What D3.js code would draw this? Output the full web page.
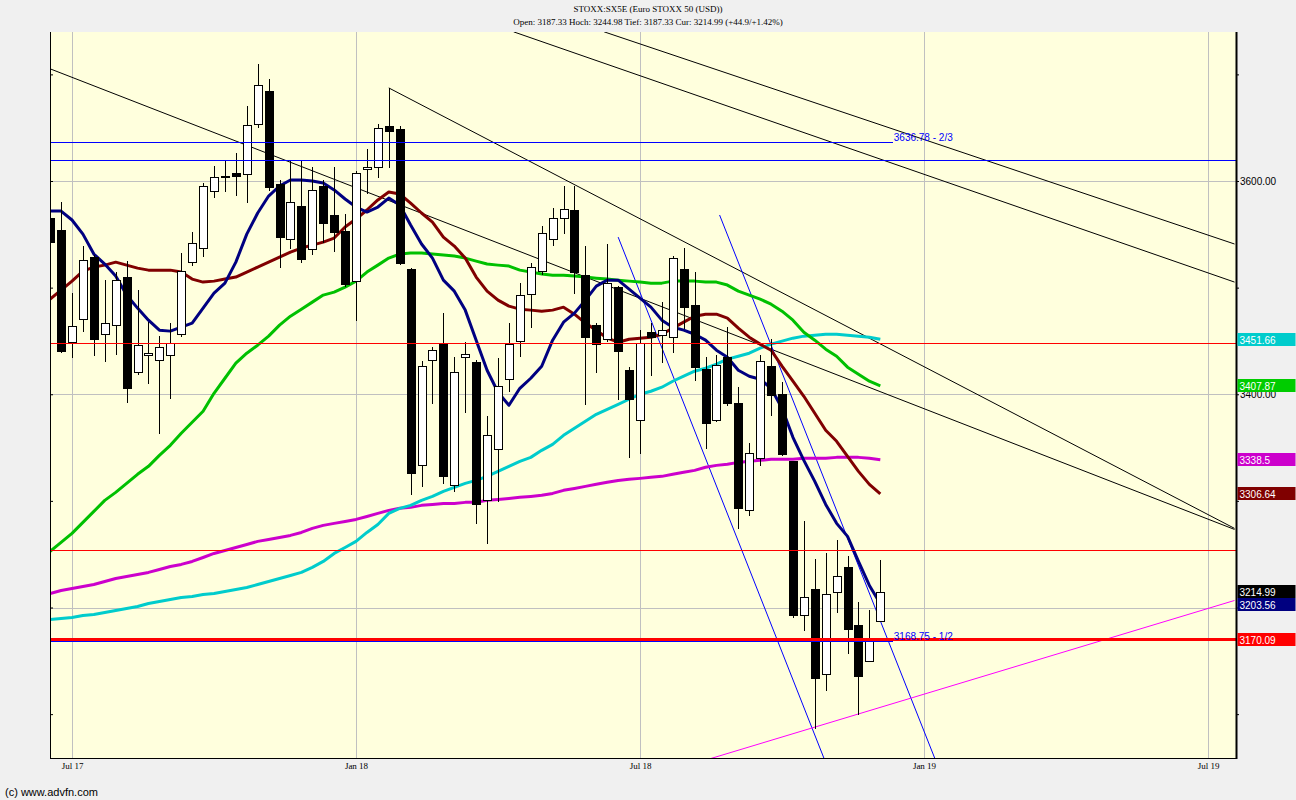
<!DOCTYPE html>
<html><head><meta charset="utf-8">
<script src="https://cdn.jsdelivr.net/npm/d3@7"></script>
<style>body{margin:0;background:#f0f0f0}svg{display:block}</style>
</head><body><svg id="c" width="1296" height="800"></svg>
<script>
// ---------- DATA ----------
const titleText = "STOXX:SX5E (Euro STOXX 50 (USD))";
const subTitleText = "Open: 3187.33 Hoch: 3244.98 Tief: 3187.33 Cur: 3214.99 (+44.9/+1.42%)";
const copyrightText = "(c) www.advfn.com";

const weeks = ["2017-06-19","2017-06-26","2017-07-03","2017-07-10","2017-07-17","2017-07-24","2017-07-31",
"2017-08-07","2017-08-14","2017-08-21","2017-08-28","2017-09-04","2017-09-11","2017-09-18","2017-09-25",
"2017-10-02","2017-10-09","2017-10-16","2017-10-23","2017-10-30","2017-11-06","2017-11-13","2017-11-20","2017-11-27",
"2017-12-04","2017-12-11","2017-12-18","2017-12-25","2018-01-01","2018-01-08","2018-01-15","2018-01-22","2018-01-29",
"2018-02-05","2018-02-12","2018-02-19","2018-02-26","2018-03-05","2018-03-12","2018-03-19","2018-03-26",
"2018-04-02","2018-04-09","2018-04-16","2018-04-23","2018-04-30","2018-05-07","2018-05-14","2018-05-21","2018-05-28",
"2018-06-04","2018-06-11","2018-06-18","2018-06-25","2018-07-02","2018-07-09","2018-07-16","2018-07-23","2018-07-30",
"2018-08-06","2018-08-13","2018-08-20","2018-08-27","2018-09-03","2018-09-10","2018-09-17","2018-09-24",
"2018-10-01","2018-10-08","2018-10-15","2018-10-22","2018-10-29","2018-11-05","2018-11-12","2018-11-19","2018-11-26","2018-12-03"];

const open = [3565.3,3554.0,3448.8,3470.4,3528.6,3456.3,3464.8,3509.9,3420.7,3436.6,3431.9,3436.6,3456.3,3523.9,3537.1,
3590.6,3603.8,3607.5,3606.6,3653.5,3684.5,3597.2,3545.5,3576.5,3536.2,3595.3,3568.1,3553.1,3506.1,3611.3,3613.2,3651.7,3648.8,
3517.4,3333.3,3431.9,3447.9,3314.6,3434.7,3430.0,3300.5,3348.4,3414.1,3449.8,3493.9,3515.5,3545.5,3565.3,3572.8,3511.7,
3464.8,3451.6,3500.5,3422.5,3375.6,3458.2,3455.4,3453.5,3517.4,3483.6,3423.5,3375.6,3434.7,3391.5,3291.1,3339.9,3426.3,
3400.0,3337.1,3192.5,3216.9,3138.0,3215.0,3237.6,3184.0,3150.2,3187.33];
const high = [3579.3,3580.3,3494.8,3539.0,3530.5,3507.0,3514.6,3524.9,3497.7,3467.6,3454.5,3466.7,3532.4,3552.1,3598.1,
3614.1,3618.8,3626.3,3670.4,3709.9,3695.8,3600.9,3618.8,3618.8,3613.2,3600.9,3613.2,3569.0,3609.4,3630.1,3653.5,3687.3,3651.7,
3518.0,3431.0,3444.1,3476.1,3434.7,3448.8,3431.9,3379.3,3433.8,3466.7,3504.2,3523.0,3557.8,3574.7,3595.3,3595.3,3539.0,
3466.7,3540.9,3501.4,3425.4,3460.1,3466.7,3486.4,3529.6,3537.1,3514.6,3434.7,3436.6,3462.9,3406.6,3354.0,3436.6,3451.6,
3411.3,3337.5,3280.7,3245.1,3250.7,3262.9,3247.9,3205.6,3197.2,3244.98];
const low = [3539.9,3439.4,3434.7,3459.2,3436.6,3431.0,3437.6,3392.5,3419.0,3410.3,3363.4,3396.2,3455.0,3521.1,3529.6,
3585.0,3590.6,3586.9,3580.3,3651.0,3591.6,3519.3,3537.1,3524.0,3531.5,3542.7,3534.3,3501.4,3469.5,3588.7,3603.8,3613.2,3522.0,
3306.1,3313.6,3391.5,3316.4,3308.9,3383.1,3278.9,3260.1,3299.5,3402.8,3435.7,3462.9,3512.7,3539.9,3551.2,3494.8,3390.6,
3420.7,3449.8,3395.3,3340.8,3344.6,3417.8,3430.0,3439.4,3462.0,3413.1,3349.3,3374.6,3389.7,3274.2,3286.4,3333.3,3380.3,
3342.7,3191.5,3179.3,3087.3,3123.0,3196.2,3157.7,3100.5,3150.0,3187.33];
const close = [3542.7,3440.4,3463.9,3525.8,3451.6,3466.7,3507.0,3405.6,3446.0,3438.5,3444.1,3447.9,3515.5,3541.8,3595.3,
3603.8,3604.7,3604.7,3652.6,3690.2,3594.4,3547.4,3580.3,3526.8,3591.6,3560.6,3552.1,3503.3,3607.5,3613.2,3649.8,3647.0,3523.0,
3325.8,3426.3,3441.3,3323.0,3420.7,3437.6,3296.7,3361.5,3407.5,3447.0,3493.0,3519.3,3551.2,3565.3,3573.7,3514.6,3453.5,
3447.0,3504.2,3440.4,3395.3,3447.9,3453.5,3460.1,3527.7,3481.7,3425.4,3372.8,3427.2,3391.5,3293.0,3344.6,3431.0,3399.1,
3343.7,3192.5,3209.4,3134.3,3213.1,3229.1,3180.3,3136.1,3171.8,3214.99];

// moving averages (one value per week)
const maNavy = [3571.8,3571.8,3563.4,3550.2,3531.5,3522.1,3510.8,3493.0,3480.8,3469.5,3460.1,3459.2,3462.9,3466.7,3480.8,
3494.8,3504.2,3523.9,3550.2,3570.0,3585.9,3595.3,3600.9,3600.9,3600.0,3598.1,3591.6,3583.1,3575.6,3570.9,3575.6,3584.0,3577.5,
3558.7,3540.9,3527.7,3507.0,3496.7,3478.9,3450.7,3422.5,3401.9,3389.7,3405.6,3415.0,3426.3,3450.7,3467.6,3476.1,3488.3,
3501.4,3507.0,3507.0,3498.6,3490.1,3481.7,3469.5,3462.9,3460.1,3456.3,3450.7,3441.3,3434.7,3422.5,3416.9,3414.1,3405.6,
3386.9,3359.6,3338.0,3318.3,3296.7,3278.9,3266.7,3243.2,3220.7,3203.56];
const maMaroon = [3489.2,3497.7,3506.1,3515.5,3519.3,3521.1,3523.9,3521.1,3518.3,3516.4,3516.4,3516.4,3514.6,3508.0,3505.2,
3506.1,3508.0,3509.9,3514.6,3519.3,3523.9,3528.6,3533.3,3537.1,3539.9,3542.7,3546.5,3556.8,3564.3,3572.8,3582.2,3589.7,3587.8,
3579.3,3570.0,3561.5,3547.4,3539.0,3527.7,3509.9,3496.7,3488.3,3482.6,3479.8,3478.9,3477.9,3478.9,3481.7,3475.1,3466.7,
3460.1,3452.6,3448.8,3451.6,3452.6,3453.5,3456.3,3462.0,3467.6,3473.2,3475.1,3475.1,3471.4,3462.0,3453.5,3447.0,3441.3,
3426.3,3412.2,3398.1,3382.2,3366.2,3355.9,3341.8,3327.7,3315.5,3306.64];
const maGreen = [3252.6,3261.0,3269.5,3279.8,3290.1,3300.5,3308.0,3316.4,3324.9,3332.4,3342.7,3352.1,3363.4,3373.7,3384.0,
3400.9,3415.0,3429.1,3438.5,3446.0,3454.5,3464.8,3473.2,3479.8,3486.4,3493.0,3495.8,3500.5,3506.1,3514.6,3521.1,3527.7,3531.5,
3532.4,3532.4,3531.5,3530.5,3529.6,3527.7,3524.9,3522.1,3521.1,3520.2,3516.4,3514.6,3512.7,3511.7,3511.7,3510.8,3509.9,
3508.9,3508.0,3507.0,3506.1,3505.2,3504.2,3504.2,3506.1,3506.1,3506.1,3505.2,3505.2,3502.4,3496.7,3493.0,3489.2,3484.5,
3477.9,3469.5,3458.2,3450.7,3442.3,3435.7,3425.4,3418.8,3412.2,3407.87];
const maCyan = [3188.7,3189.7,3190.6,3192.5,3193.4,3195.3,3197.2,3199.1,3200.9,3203.8,3205.6,3207.5,3209.4,3210.3,3212.2,
3213.1,3215.0,3216.9,3218.8,3221.6,3224.4,3227.2,3230.0,3232.9,3237.6,3243.2,3250.7,3256.3,3262.0,3270.4,3277.9,3288.3,3293.0,
3295.8,3300.5,3304.2,3308.9,3312.7,3316.4,3319.2,3323.0,3327.7,3332.4,3337.1,3340.8,3347.4,3353.0,3361.5,3368.1,3374.6,
3381.2,3385.9,3390.6,3395.3,3400.0,3402.8,3406.6,3412.2,3416.9,3421.6,3424.4,3428.2,3432.9,3435.7,3438.5,3443.2,3447.0,
3449.8,3452.6,3454.5,3455.4,3456.3,3456.3,3455.4,3454.5,3453.5,3451.66];
const maMagenta = [3213.1,3216.0,3217.8,3219.7,3221.6,3224.4,3227.2,3229.1,3231.0,3232.9,3235.7,3238.5,3240.4,3243.2,3246.9,
3250.7,3253.5,3256.3,3259.1,3262.0,3263.8,3265.7,3267.6,3270.4,3274.2,3277.0,3278.9,3280.7,3282.6,3285.4,3288.3,3291.1,3293.0,
3293.9,3295.8,3296.7,3297.6,3297.6,3298.6,3298.6,3300.5,3301.4,3302.3,3303.3,3304.2,3305.2,3307.0,3309.9,3311.7,3313.6,
3315.5,3317.4,3319.2,3320.2,3321.1,3322.1,3323.0,3324.9,3326.8,3328.6,3331.5,3333.3,3334.3,3336.1,3337.1,3338.0,3339.0,
3339.0,3339.0,3339.9,3339.9,3339.9,3340.8,3340.8,3340.8,3339.9,3338.5];

const maSeries = [
  {values: maMagenta, color: "#cc00cc"},
  {values: maCyan,    color: "#00cccc"},
  {values: maGreen,   color: "#00c000"},
  {values: maMaroon,  color: "#800000"},
  {values: maNavy,    color: "#000080"}
];

const monthTicks  = ["2017-07-03","2018-01-01","2018-07-02","2018-12-31","2019-07-01"];
const monthLabels = ["Jul 17","Jan 18","Jul 18","Jan 19","Jul 19"];
const priceTicks  = [3100,3200,3300,3400,3500,3600,3700];
const labelledPrices = [3400,3600];
const gridPrices  = [3200,3400,3600];

const hLines = [
  {value: 3619.7,  color: "#0000ff", width: 1},
  {value: 3448.0,  color: "#ff0000", width: 1},
  {value: 3253.8,  color: "#ff0000", width: 1},
  {value: 3170.09, color: "#ff0000", width: 3}
];
const fibLevels = [
  {value: 3636.78, label: "3636.78 - 2/3"},
  {value: 3168.75, label: "3168.75 - 1/2"}
];
const fibEnd = "2018-12-11";

const trendLines = [
  {d1:"2017-06-19", p1:3705.2, d2:"2019-07-18", p2:3273.2, color:"#000000"},
  {d1:"2018-01-22", p1:3687.3, d2:"2019-07-18", p2:3274.2, color:"#000000"},
  {d1:"2018-04-12", p1:3739.9, d2:"2019-07-18", p2:3505.2, color:"#000000"},
  {d1:"2018-06-09", p1:3739.9, d2:"2019-07-18", p2:3540.9, color:"#000000"},
  {d1:"2018-06-18", p1:3547.4, d2:"2018-10-28", p2:3058.2, color:"#0000ff"},
  {d1:"2018-08-22", p1:3568.1, d2:"2019-01-07", p2:3058.2, color:"#0000ff"},
  {d1:"2018-08-16", p1:3058.2, d2:"2019-07-18", p2:3206.6, color:"#ff00ff"}
];

const lastLabels = [
  {value: 3451.66, text: "3451.66", bg: "#00cccc"},
  {value: 3407.87, text: "3407.87", bg: "#00cc00"},
  {value: 3338.5,  text: "3338.5",  bg: "#cc00cc"},
  {value: 3306.64, text: "3306.64", bg: "#800000"},
  {value: 3214.99, text: "3214.99", bg: "#000000"},
  {value: 3203.56, text: "3203.56", bg: "#000080"},
  {value: 3170.09, text: "3170.09", bg: "#ff0000"}
];

// ---------- LAYOUT ----------
const L = 50, R = 1236, T = 32, B = 758;
const parse = d3.utcParse("%Y-%m-%d");
const x = d3.scaleUtc().domain([parse("2017-07-03"), parse("2019-07-01")]).range([72, 1208]);
const y = d3.scaleLinear().domain([3200, 3600]).range([607.5, 181]);
const serif = "'Liberation Serif','Times New Roman',serif";
const narrow = "'Liberation Sans Narrow','Liberation Sans',Arial,sans-serif";
const crispY = v => Math.round(y(v)) + 0.5;

const svg = d3.select("#c");
svg.append("rect").attr("width",1296).attr("height",800).attr("fill","#f0f0f0");
svg.append("rect").attr("x",L).attr("y",T).attr("width",R-L).attr("height",B-T).attr("fill","#ffffdd");

svg.append("defs").append("clipPath").attr("id","plot")
  .append("rect").attr("x",L).attr("y",T).attr("width",R-L).attr("height",B-T);

const g = svg.append("g").attr("clip-path","url(#plot)");

// grid
g.selectAll("line.vg").data(monthTicks).join("line")
  .attr("x1",d=>Math.round(x(parse(d)))+0.5).attr("x2",d=>Math.round(x(parse(d)))+0.5)
  .attr("y1",T).attr("y2",B).attr("stroke","#c0c0c0").attr("stroke-width",1);
g.selectAll("line.hg").data(gridPrices).join("line")
  .attr("x1",L).attr("x2",R)
  .attr("y1",d=>crispY(d)).attr("y2",d=>crispY(d))
  .attr("stroke","#c0c0c0").attr("stroke-width",1);

// trend lines
g.selectAll("line.tr").data(trendLines).join("line")
  .attr("x1",d=>x(parse(d.d1))).attr("y1",d=>y(d.p1))
  .attr("x2",d=>x(parse(d.d2))).attr("y2",d=>y(d.p2))
  .attr("stroke",d=>d.color).attr("stroke-width",1);

// moving averages
const line = d3.line().x((v,i)=>x(parse(weeks[i]))).y(v=>y(v));
g.selectAll("path.ma").data(maSeries).join("path")
  .attr("d",d=>line(d.values)).attr("fill","none")
  .attr("stroke",d=>d.color).attr("stroke-width",3).attr("stroke-linejoin","round");

// candles
const candles = weeks.map((w,i)=>({date:parse(w), o:open[i], h:high[i], l:low[i], c:close[i]}));
const cg = g.append("g").attr("shape-rendering","crispEdges");
candles.forEach(d=>{
  const cx = Math.round(x(d.date));
  cg.append("line").attr("x1",cx+0.5).attr("x2",cx+0.5)
    .attr("y1",Math.round(y(d.h))).attr("y2",Math.round(y(d.l))+1).attr("stroke","#000");
  const top = Math.round(y(Math.max(d.o,d.c))), bot = Math.round(y(Math.min(d.o,d.c)));
  const up = d.c >= d.o;
  cg.append("rect").attr("x",cx-3.5).attr("y",top+0.5)
    .attr("width",8).attr("height",Math.max(1,bot-top))
    .attr("fill",up?"#ffffff":"#000000").attr("stroke","#000").attr("stroke-width",1);
});

// horizontal levels
const hg = g.append("g").attr("shape-rendering","crispEdges");
hg.selectAll("line.hl").data(hLines).join("line")
  .attr("x1",L).attr("x2",R)
  .attr("y1",d=>d.width===1?crispY(d.value):Math.round(y(d.value)))
  .attr("y2",d=>d.width===1?crispY(d.value):Math.round(y(d.value)))
  .attr("stroke",d=>d.color).attr("stroke-width",d=>d.width);
hg.selectAll("line.fib").data(fibLevels).join("line")
  .attr("x1",L).attr("x2",x(parse(fibEnd))).attr("y1",d=>crispY(d.value)).attr("y2",d=>crispY(d.value))
  .attr("stroke","#0000ff").attr("stroke-width",1);
g.selectAll("text.fib").data(fibLevels).join("text")
  .attr("x",x(parse(fibEnd))+1).attr("y",d=>Math.round(y(d.value))-1)
  .attr("font-family",narrow).attr("font-size",10).attr("fill","#0000ff").text(d=>d.label);

// axes
const axR = d3.axisRight(y).tickValues(priceTicks).tickSize(3).tickPadding(1)
  .tickFormat(d=> labelledPrices.includes(d) ? d.toFixed(2) : "");
const gr = svg.append("g").attr("transform",`translate(${R},0)`).call(axR);
gr.select(".domain").remove();
gr.selectAll("text").attr("font-family",narrow).attr("font-size",10).attr("fill","#000");
const axL = d3.axisRight(y).tickValues(priceTicks).tickSize(3).tickFormat("");
const gl = svg.append("g").attr("transform",`translate(${L},0)`).call(axL);
gl.select(".domain").remove();
const axB = d3.axisBottom(x).tickValues(monthTicks.map(parse)).tickSize(0).tickPadding(5)
  .tickFormat((d,i)=>monthLabels[i]);
const gb = svg.append("g").attr("transform",`translate(0,${B})`).call(axB);
gb.select(".domain").remove();
gb.selectAll("text").attr("font-family",serif).attr("font-size",9).attr("fill","#000");

svg.append("line").attr("x1",L+0.5).attr("x2",L+0.5).attr("y1",T).attr("y2",B+1).attr("stroke","#000");
svg.append("line").attr("x1",L).attr("x2",R).attr("y1",B+0.5).attr("y2",B+0.5).attr("stroke","#000");
svg.append("line").attr("x1",R+0.5).attr("x2",R+0.5).attr("y1",T).attr("y2",B+1).attr("stroke","#000").attr("stroke-width",2);

// last-value labels with simple collision avoidance
const lab = lastLabels.map(d=>({...d, cy:y(d.value)})).sort((a,b)=>a.cy-b.cy);
for (let i=1;i<lab.length;i++) if (lab[i].cy - lab[i-1].cy < 13) lab[i].cy = lab[i-1].cy + 13;
const lg = svg.append("g");
lg.selectAll("rect").data(lab).join("rect")
  .attr("x",R+1.5).attr("y",d=>Math.round(d.cy-6.5)).attr("width",1296-R-2).attr("height",13)
  .attr("fill",d=>d.bg);
lg.selectAll("text").data(lab).join("text")
  .attr("x",R+3.5).attr("y",d=>Math.round(d.cy-6.5)+10.5)
  .attr("font-family",narrow).attr("font-size",10).attr("fill","#fff").text(d=>d.text);

// title & copyright
svg.append("text").attr("x",648).attr("y",12).attr("text-anchor","middle")
  .attr("font-family",serif).attr("font-size",9).attr("fill","#000").text(titleText);
svg.append("text").attr("x",648).attr("y",25).attr("text-anchor","middle")
  .attr("font-family",serif).attr("font-size",9).attr("fill","#000").text(subTitleText);
svg.append("text").attr("x",5).attr("y",796)
  .attr("font-family","'Liberation Sans',Arial,sans-serif").attr("font-size",11).attr("fill","#000").text(copyrightText);
</script></body></html>
